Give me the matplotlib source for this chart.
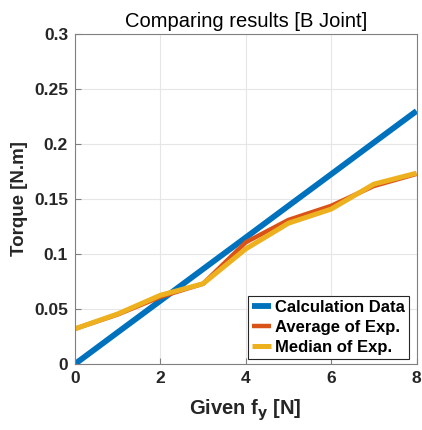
import matplotlib
matplotlib.use("Agg")
import matplotlib.pyplot as plt
from matplotlib.ticker import FuncFormatter

plt.rcParams['font.family'] = ['Liberation Sans', 'DejaVu Sans']

force = [0, 1, 2, 3, 4, 5, 6, 7, 8]
calc = [0, 0.0288, 0.0575, 0.0863, 0.115, 0.1438, 0.1725, 0.2013, 0.23]
avg_exp = [0.032, 0.045, 0.061, 0.073, 0.1106, 0.131, 0.1438, 0.1618, 0.1728]
med_exp = [0.032, 0.0455, 0.0625, 0.073, 0.1046, 0.128, 0.1408, 0.1635, 0.1735]
labels = ['Calculation Data', 'Average of Exp.', 'Median of Exp.']

fig = plt.figure(figsize=(4.22, 4.30), dpi=100)
ax = fig.add_axes([0.1777, 0.1535, 0.8093, 0.7674])

ax.plot(force, calc, color='#0072BD', lw=4.2, label=labels[0], solid_capstyle='butt')
ax.plot(force, avg_exp, color='#D95319', lw=3.2, label=labels[1], solid_capstyle='butt')
ax.plot(force, med_exp, color='#EDB120', lw=3.6, label=labels[2], solid_capstyle='butt')

ax.set_xlim(0, 8)
ax.set_ylim(0, 0.3)
ax.set_xticks([0, 2, 4, 6, 8])
ax.set_yticks([0, 0.05, 0.1, 0.15, 0.2, 0.25, 0.3])
ax.yaxis.set_major_formatter(FuncFormatter(lambda v, p: '%g' % round(v, 4)))
ax.grid(True, color='#e6e6e6', lw=0.8)
ax.set_axisbelow(True)
for s in ax.spines.values():
    s.set_color('#808080')
    s.set_linewidth(0.8)
ax.tick_params(direction='in', length=4, color='#808080', labelsize=12.5, pad=5)
for t in ax.get_xticklabels() + ax.get_yticklabels():
    t.set_fontweight('bold')
    t.set_color('#262626')

ax.set_xlabel('Given f$_\\mathbf{y}$ [N]', fontsize=14.5, fontweight='bold', color='#262626', labelpad=8)
ax.set_ylabel('Torque [N.m]', fontsize=13.5, fontweight='bold', color='#262626', labelpad=4)
ax.set_title('Comparing results [B Joint]', fontsize=14.5, color='#000000', pad=5)

leg = ax.legend(loc='lower right', bbox_to_anchor=(0.978, 0.015), borderaxespad=0,
                prop={'weight': 'bold', 'size': 12}, handlelength=1.1, handletextpad=0.25,
                labelspacing=0.3, borderpad=0.25, fancybox=False, framealpha=1)
leg.get_frame().set_edgecolor('#262626')
leg.get_frame().set_linewidth(0.8)

fig.savefig('out.png', dpi=100)
